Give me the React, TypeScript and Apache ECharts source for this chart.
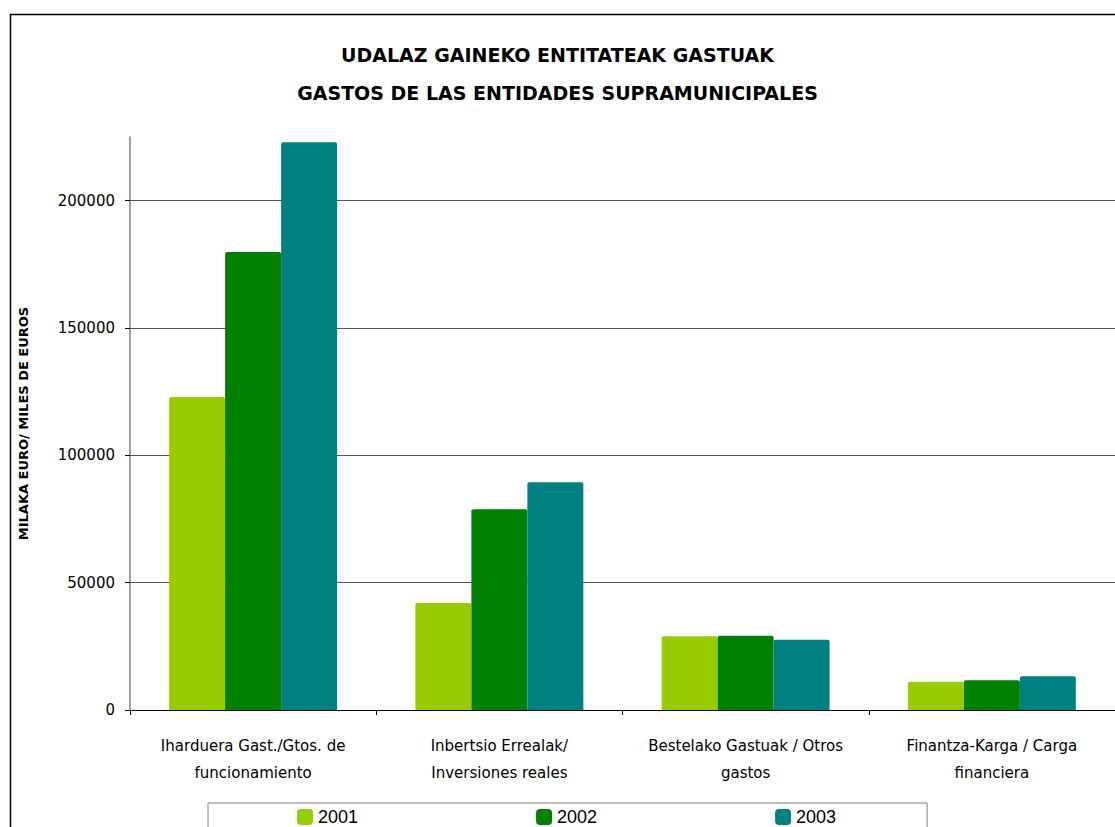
import React, { useEffect, useRef } from "react";
import * as echarts from "echarts";

const categories = [
  "Iharduera Gast./Gtos. de\nfuncionamiento",
  "Inbertsio Errealak/\nInversiones reales",
  "Bestelako Gastuak / Otros\ngastos",
  "Finantza-Karga / Carga\nfinanciera",
];
const years = ["2001", "2002", "2003"];
const values2001 = [122900, 42000, 29000, 11100];
const values2002 = [179800, 78800, 29200, 11700];
const values2003 = [222900, 89400, 27600, 13300];
const colors = ["#99CC00", "#008000", "#008080"];
const yTicks = { min: 0, max: 225000, interval: 50000 };
const titleLines = ["UDALAZ GAINEKO ENTITATEAK GASTUAK", "GASTOS DE LAS ENTIDADES SUPRAMUNICIPALES"];
const yName = "MILAKA EURO/ MILES DE EUROS";

const FONT = "'Comic Sans MS', 'DejaVu Sans', sans-serif";

export default function App() {
  const ref = useRef<HTMLDivElement>(null);
  useEffect(() => {
    if (!ref.current) return;
    const chart = echarts.init(ref.current, null, { renderer: "svg" });
    const seriesData = [values2001, values2002, values2003];
    chart.setOption({
      animation: false,
      backgroundColor: "#ffffff",
      title: {
        text: titleLines.join("\n"),
        left: "center",
        top: 31,
        textStyle: {
          fontFamily: FONT,
          fontSize: 19,
          fontWeight: "bold",
          color: "#000",
          lineHeight: 38,
        },
      },
      graphic: [
        {
          type: "rect",
          left: 8,
          top: 12,
          shape: { x: 0, y: 0, width: 1300, height: 1000 },
          style: { fill: "none", stroke: "#000", lineWidth: 1.5 },
          silent: true,
          z: -1,
        },
      ],
      legend: {
        data: years,
        left: 208,
        top: 803,
        padding: [5, 91, 5, 89],
        itemGap: 178,
        itemWidth: 16,
        itemHeight: 16,
        icon: "roundRect",
        borderColor: "#808080",
        borderWidth: 1,
        textStyle: {
          fontFamily: "'Liberation Sans', Arial, sans-serif",
          fontSize: 18,
          color: "#000",
        },
      },
      grid: {
        left: 130,
        right: 0,
        top: 137,
        bottom: 117,
        containLabel: false,
      },
      xAxis: {
        type: "category",
        data: categories,
        axisLine: { lineStyle: { color: "#000", width: 1 } },
        axisTick: { show: true, length: 5, lineStyle: { color: "#000" } },
        axisLabel: {
          fontFamily: FONT,
          fontSize: 15,
          color: "#000",
          lineHeight: 27,
          margin: 22,
          interval: 0,
        },
      },
      yAxis: {
        type: "value",
        min: yTicks.min,
        max: yTicks.max,
        interval: yTicks.interval,
        name: yName,
        nameLocation: "middle",
        nameGap: 100,
        nameRotate: 90,
        nameTextStyle: {
          fontFamily: FONT,
          fontSize: 13,
          fontWeight: "bold",
          color: "#000",
        },
        axisLine: { show: true, lineStyle: { color: "#808080", width: 1.5 } },
        axisTick: { show: true, length: 5, lineStyle: { color: "#000" } },
        axisLabel: {
          fontFamily: FONT,
          fontSize: 15,
          color: "#000",
          margin: 15,
          showMaxLabel: false,
          formatter: (v: number) => String(v),
        },
        splitLine: {
          show: true,
          showMinLine: false,
          showMaxLine: false,
          lineStyle: { color: "#555", width: 1 },
        },
      },
      series: years.map((y, i) => ({
        name: y,
        type: "bar",
        data: seriesData[i],
        barGap: "0%",
        barCategoryGap: "31.8%",
        itemStyle: { color: colors[i], borderRadius: [2, 2, 0, 0] },
      })),
    });
    return () => chart.dispose();
  }, []);
  return (
    <div
      ref={ref}
      style={{ position: "fixed", left: 0, top: 0, width: 1115, height: 827 }}
    />
  );
}
